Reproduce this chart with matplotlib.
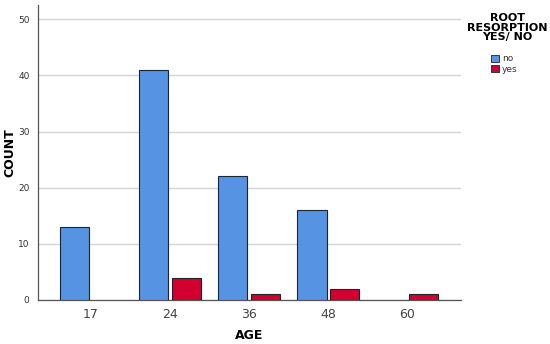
import numpy as np
import matplotlib.pyplot as plt
from matplotlib.patches import Patch

# Datos
ages = ['17', '24', '36', '48', '60']
count_no = [13, 41, 22, 16, 0]
count_yes = [0, 4, 1, 2, 1]

BLUE = '#5694e3'
RED = '#d3002f'
EDGE = '#1c2433'

fig = plt.figure(figsize=(5.5, 3.44), dpi=100)
ax = fig.add_axes([0.069, 0.128, 0.769, 0.857])

x = np.arange(len(ages))
w = 0.37
gap = 0.02
# Las barras con valor 0 no llevan borde
edges_no = [EDGE if v > 0 else 'none' for v in count_no]
edges_yes = [EDGE if v > 0 else 'none' for v in count_yes]
ax.bar(x - w / 2 - gap, count_no, width=w, color=BLUE, edgecolor=edges_no, linewidth=0.8, zorder=3)
ax.bar(x + w / 2 + gap, count_yes, width=w, color=RED, edgecolor=edges_yes, linewidth=0.8, zorder=3)

ax.set_xlim(-0.67, 4.68)
ax.set_ylim(0, 52.5)
ax.set_yticks([0, 10, 20, 30, 40, 50])
ax.set_xticks(x)
ax.set_xticklabels(ages)
ax.yaxis.grid(True, color='#d4d4d4', linewidth=1.0, zorder=0)
ax.set_axisbelow(True)

for s in ['top', 'right']:
    ax.spines[s].set_visible(False)
for s in ['left', 'bottom']:
    ax.spines[s].set_color('#555555')
    ax.spines[s].set_linewidth(0.9)

ax.tick_params(axis='y', length=0, labelsize=6.5, colors='#333333', pad=6)
ax.tick_params(axis='x', length=0, labelsize=9, colors='#444444', pad=6)

ax.set_xlabel('AGE', fontsize=9, fontweight='bold')
ax.set_ylabel('COUNT', fontsize=9, fontweight='bold')
ax.xaxis.set_label_coords(0.5, -0.122)
ax.yaxis.set_label_coords(-0.066, 0.5)
ax.xaxis.label.set_va('center')
ax.yaxis.label.set_va('center')

fig.text(0.922, 0.962, 'ROOT\nRESORPTION\nYES/ NO', ha='center', va='top',
         fontsize=8, fontweight='bold', linespacing=0.95)
handles = [Patch(facecolor=BLUE, edgecolor=EDGE, linewidth=0.6, label='no'),
           Patch(facecolor=RED, edgecolor=EDGE, linewidth=0.6, label='yes')]
fig.legend(handles=handles, loc='upper left', bbox_to_anchor=(0.885, 0.855),
           frameon=False, fontsize=6.5, handlelength=0.9, handleheight=0.9,
           handletextpad=0.3, labelspacing=0.15, borderpad=0, labelcolor='#333333')

fig.savefig('out.png', dpi=100)
